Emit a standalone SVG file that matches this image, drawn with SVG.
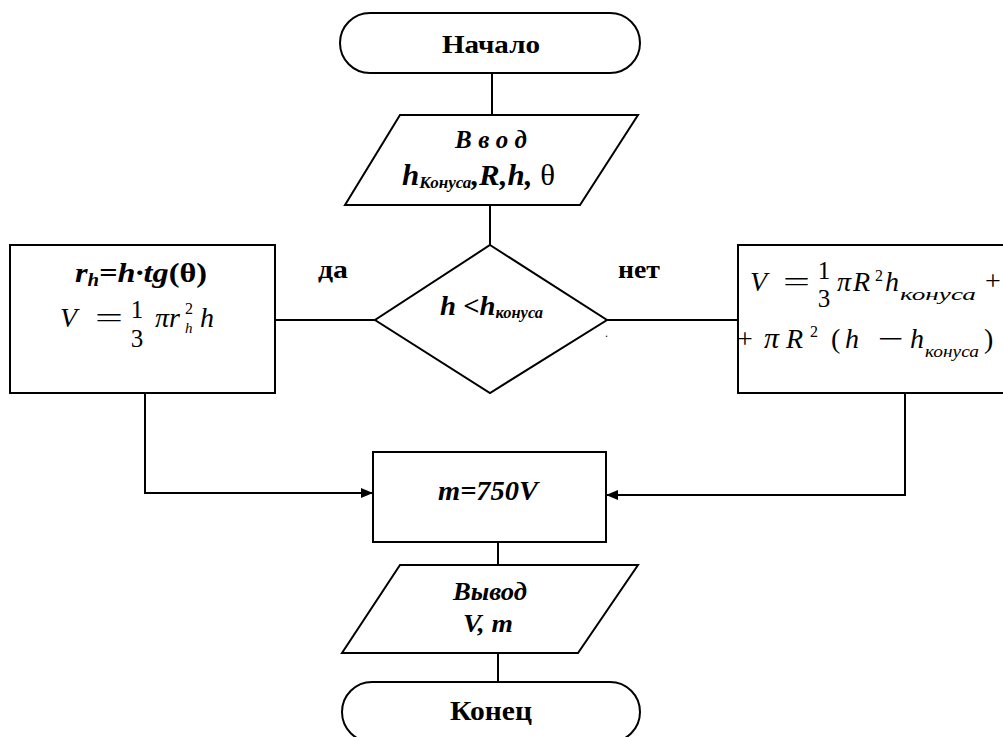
<svg xmlns="http://www.w3.org/2000/svg" width="1003" height="737" viewBox="0 0 1003 737">
<defs>
<marker id="arr" viewBox="0 0 12 10" refX="12" refY="5" markerWidth="12" markerHeight="10" markerUnits="userSpaceOnUse" orient="auto">
<path d="M0,0 L12,5 L0,10 z" fill="#000"/>
</marker>
<style>
.sh{fill:#fff;stroke:#000;stroke-width:2}
.ln{fill:none;stroke:#000;stroke-width:2}
text{font-family:'Liberation Serif','Times New Roman',serif;fill:#000}
.b{font-weight:bold}
.i{font-style:italic}
.m{text-anchor:middle}
</style>
</defs>
<rect width="1003" height="737" fill="#fff"/>
<g id="connectors">
<line class="ln" x1="492" y1="73" x2="492" y2="115"/>
<line class="ln" x1="490" y1="205" x2="490" y2="245"/>
<line class="ln" x1="375" y1="320" x2="275" y2="320"/>
<line class="ln" x1="607" y1="320" x2="738" y2="320"/>
<polyline class="ln" points="145,393 145,493 373,493" marker-end="url(#arr)"/>
<polyline class="ln" points="905,393 905,495 606,495" marker-end="url(#arr)"/>
<line class="ln" x1="498" y1="542" x2="498" y2="565"/>
<line class="ln" x1="498" y1="653" x2="498" y2="682"/>
</g>
<g id="start">
<rect class="sh" x="340" y="13" width="300" height="60" rx="30" ry="30"/>
<text class="b" x="442" y="53" font-size="26" textLength="98" lengthAdjust="spacingAndGlyphs">Начало</text>
</g>
<g id="input">
<polygon class="sh" points="400,115 638,115 580,205 345,205"/>
<text class="b i" x="455" y="148" font-size="25" textLength="72">Ввод</text>
<text class="b i" x="402" y="185" font-size="29" textLength="153" lengthAdjust="spacingAndGlyphs">h<tspan font-size="16" dy="3">Конуса</tspan><tspan dy="-3">,R,h,</tspan><tspan font-style="normal" font-weight="normal"> θ</tspan></text>
</g>
<g id="decision">
<polygon class="sh" points="490,245 607,320 490,393 375,320"/>
<text class="b i" x="440" y="315" font-size="28" textLength="103" lengthAdjust="spacingAndGlyphs">h &lt;h<tspan font-size="16" dy="3">конуса</tspan></text>
<text x="605" y="337" font-size="12">.</text>
</g>
<text class="b" x="318" y="278" font-size="26" textLength="30" lengthAdjust="spacingAndGlyphs">да</text>
<text class="b" x="618" y="278" font-size="26" textLength="42" lengthAdjust="spacingAndGlyphs">нет</text>
<g id="left-box">
<rect class="sh" x="10" y="245" width="265" height="148"/>
<text class="b i" x="75" y="282" font-size="28" textLength="132" lengthAdjust="spacingAndGlyphs">r<tspan font-size="18" dy="4">h</tspan><tspan dy="-4">=h·tg</tspan><tspan font-style="normal">(θ)</tspan></text>
<text class="i" x="60" y="327" font-size="28">V</text>
<text x="95" y="327" font-size="28" textLength="28" lengthAdjust="spacingAndGlyphs">=</text>
<text class="m" x="137" y="318" font-size="25">1</text>
<text class="m" x="137" y="347" font-size="25">3</text>
<text class="i" x="155" y="327" font-size="28">π</text>
<text class="i" x="169" y="327" font-size="28">r</text>
<text class="i" x="185" y="333" font-size="15">h</text>
<text x="185" y="314" font-size="16">2</text>
<text class="i" x="200" y="327" font-size="28">h</text>
</g>
<g id="right-box">
<rect class="sh" x="738" y="245" width="280" height="148"/>
<text class="i" x="750" y="291" font-size="28">V</text>
<text x="783" y="291" font-size="28" textLength="27" lengthAdjust="spacingAndGlyphs">=</text>
<text class="m" x="824" y="279" font-size="25">1</text>
<text class="m" x="824" y="307" font-size="25">3</text>
<text class="i" x="837" y="291" font-size="28">π</text>
<text class="i" x="853" y="291" font-size="28">R</text>
<text x="875" y="281" font-size="16">2</text>
<text class="i" x="885" y="291" font-size="28">h</text>
<text class="i" x="900" y="300" font-size="17" textLength="76" lengthAdjust="spacingAndGlyphs">конуса</text>
<text x="985" y="290" font-size="28">+</text>
<text x="737" y="348" font-size="28">+</text>
<text class="i" x="764" y="348" font-size="30">π</text>
<text class="i" x="786" y="348" font-size="28">R</text>
<text x="810" y="337" font-size="16">2</text>
<text x="831" y="348" font-size="28">(</text>
<text class="i" x="845" y="348" font-size="28">h</text>
<text x="878" y="348" font-size="28" textLength="26" lengthAdjust="spacingAndGlyphs">−</text>
<text class="i" x="910" y="348" font-size="28">h</text>
<text class="i" x="925" y="357" font-size="17" textLength="54" lengthAdjust="spacingAndGlyphs">конуса</text>
<text x="984" y="348" font-size="28">)</text>
</g>
<g id="calc">
<rect class="sh" x="373" y="452" width="233" height="90"/>
<text class="b i" x="438" y="500" font-size="28" textLength="100" lengthAdjust="spacingAndGlyphs">m=750V</text>
</g>
<g id="output">
<polygon class="sh" points="400,565 638,565 578,653 342,653"/>
<text class="b i" x="453" y="600" font-size="26" textLength="74" lengthAdjust="spacingAndGlyphs">Вывод</text>
<text class="b i" x="463" y="632" font-size="26" textLength="50" lengthAdjust="spacingAndGlyphs">V, m</text>
</g>
<g id="end">
<rect class="sh" x="342" y="682" width="298" height="60" rx="30" ry="30"/>
<text class="b" x="450" y="720" font-size="27" textLength="82" lengthAdjust="spacingAndGlyphs">Конец</text>
</g>
</svg>
